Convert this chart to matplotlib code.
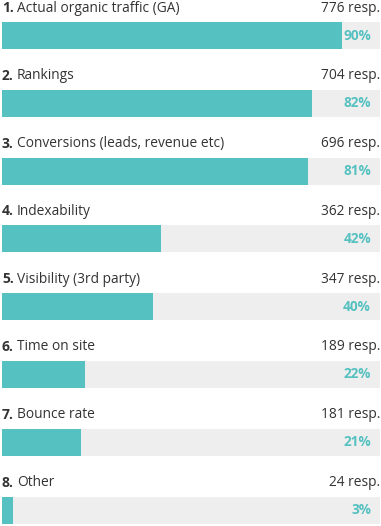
import matplotlib
matplotlib.use("Agg")
import matplotlib.pyplot as plt

labels = ["Actual organic traffic (GA)", "Rankings", "Conversions (leads, revenue etc)",
          "Indexability", "Visibility (3rd party)", "Time on site", "Bounce rate", "Other"]
responses = [776, 704, 696, 362, 347, 189, 181, 24]
percents = [90, 82, 81, 42, 40, 22, 21, 3]

teal = "#55c1c0"
grey = "#eeeeee"
dark = "#333333"

W, H = 381, 526
fig = plt.figure(figsize=(W / 100, H / 100), dpi=100)
ax = fig.add_axes([2 / W, 0, 378 / W, 1])

step = 67.8  # px between rows
top = 35.5   # px centre of first bar
ax.set_xlim(0, 100)
ax.set_ylim((H - top) / step, -top / step)
ax.axis("off")

rows = range(len(labels))
ax.barh(rows, [100] * len(labels), height=27 / step, color=grey, left=0)
ax.barh(rows, percents, height=27 / step, color=teal)

for i in rows:
    y_lab = i - 27.5 / step
    ax.text(0, y_lab, f"{i + 1}.", fontsize=10, fontweight="bold", color=dark,
            va="center", ha="left", family="Open Sans")
    ax.text(4.0, y_lab, labels[i], fontsize=9.9, color=dark,
            va="center", ha="left", family="Open Sans")
    ax.text(100, y_lab, f"{responses[i]} resp.", fontsize=9.9, color=dark,
            va="center", ha="right", family="Open Sans")
    ax.text(97.6, i, f"{percents[i]}%", fontsize=9.8, fontweight="bold", color=teal,
            va="center", ha="right", family="Open Sans")

fig.savefig("out.png", dpi=100)
